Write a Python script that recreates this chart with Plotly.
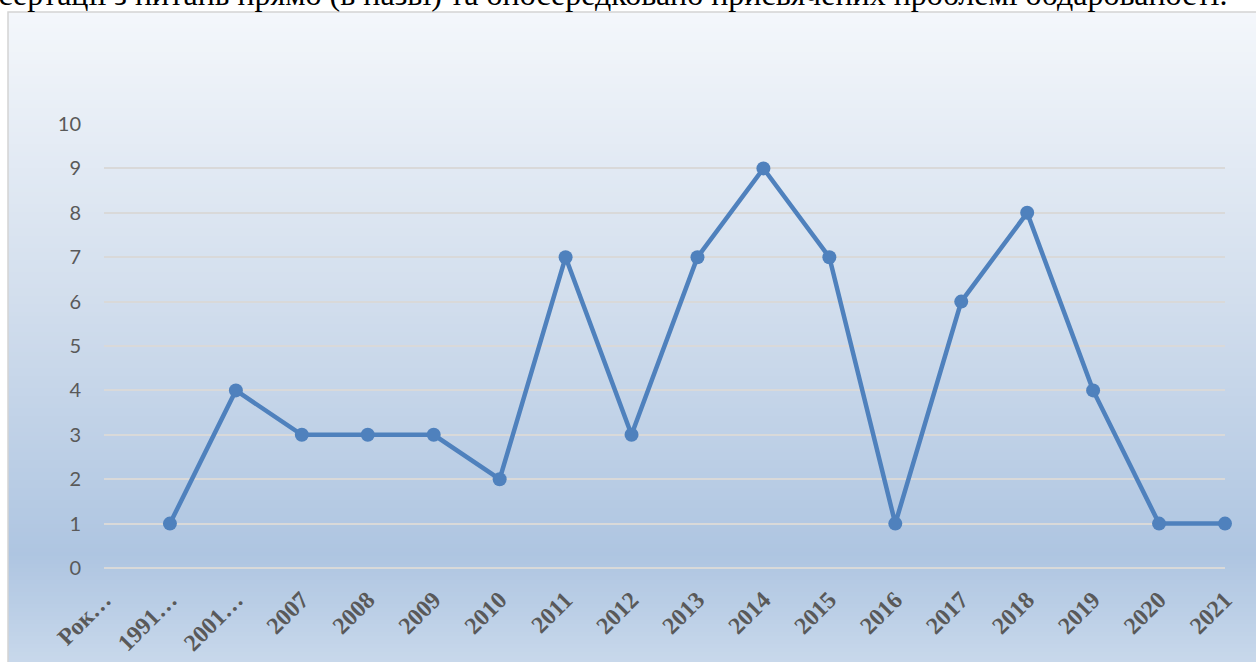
import plotly.graph_objects as go

# Number of dissertations per year
categories = ["Рок…", "1991…", "2001…", "2007", "2008", "2009", "2010", "2011", "2012",
              "2013", "2014", "2015", "2016", "2017", "2018", "2019", "2020", "2021"]
counts = [None, 1, 4, 3, 3, 3, 2, 7, 3, 7, 9, 7, 1, 6, 8, 4, 1, 1]
y_ticks = [0, 1, 2, 3, 4, 5, 6, 7, 8, 9, 10]

W, H = 1256, 662
L, R, T, B = 104, 1225, 124, 568  # plot area in pixels

SERIF = "Liberation Serif"

def px_x(px):
    return (px - L) / (R - L)

def px_y(py):
    return (B - py) / (B - T)

def mix(c1, c2, t):
    return tuple(round(a + (b - a) * t) for a, b in zip(c1, c2))

# gradient stops for the chart area background (pixel y, rgb)
stops = [(12, (244, 247, 251)), (300, (210, 222, 237)), (555, (174, 197, 225)), (662, (200, 216, 235))]

shapes = []
step = 4
y = 12
while y < H:
    y2 = min(y + step, H)
    yc = (y + y2) / 2
    for (a, ca), (b, cb) in zip(stops, stops[1:]):
        if a <= yc <= b:
            col = mix(ca, cb, (yc - a) / (b - a))
            break
    shapes.append(dict(type="rect", xref="paper", yref="paper", layer="below",
                       x0=px_x(8), x1=px_x(W + 5), y0=px_y(y2 + 0.5), y1=px_y(y),
                       fillcolor="rgb(%d,%d,%d)" % col, line=dict(width=0)))
    y = y2

# chart border
shapes.append(dict(type="rect", xref="paper", yref="paper", layer="below",
                   x0=px_x(8), x1=px_x(W + 10), y0=px_y(H + 10), y1=px_y(12),
                   fillcolor="rgba(0,0,0,0)", line=dict(color="#d4d4d4", width=1.5)))

fig = go.Figure()
fig.add_trace(go.Scatter(
    x=categories, y=counts, mode="lines+markers",
    line=dict(color="#4f81bd", width=4.5),
    marker=dict(color="#4f81bd", size=14),
    cliponaxis=False, connectgaps=False, showlegend=False,
))

fig.update_layout(
    width=W, height=H,
    margin=dict(l=L, r=W - R, t=T, b=H - B, autoexpand=False),
    paper_bgcolor="white", plot_bgcolor="rgba(0,0,0,0)",
    shapes=shapes,
    annotations=[dict(
        text="дисертації з питань прямо (в назві) та опосередковано присвячених проблемі обдарованості.",
        xref="paper", yref="paper", x=px_x(1229), y=px_y(14),
        xanchor="right", yanchor="bottom", showarrow=False,
        font=dict(family=SERIF, size=32, color="black"),
    )],
)

fig.update_xaxes(
    type="category", range=[0, len(categories) - 1], automargin=False,
    showgrid=False, showline=False, zeroline=False, ticks="",
    tickangle=-45, ticklabelstandoff=12,
    tickfont=dict(family=SERIF, size=24, weight="bold", color="#595959"),
)
fig.update_yaxes(
    range=[0, 10], tickvals=y_ticks, automargin=False,
    showgrid=True, gridcolor="#d9d9d9", gridwidth=1.5,
    zeroline=True, zerolinecolor="#d9d9d9", zerolinewidth=1.5,
    showline=False, ticks="", ticklabelstandoff=22,
    tickfont=dict(family="Lato, Carlito, sans-serif", size=20, color="#595959"),
)

fig.write_html("out.html")
